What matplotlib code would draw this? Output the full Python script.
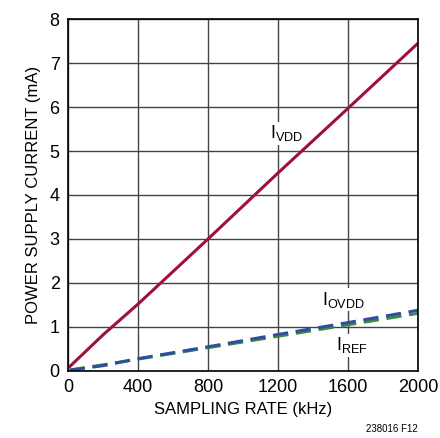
import numpy as np
import matplotlib
matplotlib.use('Agg')
import matplotlib.pyplot as plt

plt.rcParams['font.family'] = ['Liberation Sans Narrow', 'Liberation Sans', 'DejaVu Sans']

rate = [10, 200, 400, 800, 1200, 1600, 2000]
i_vdd = [0.10, 0.82, 1.52, 3.0, 4.5, 5.97, 7.45]
i_ovdd = [0.02, 0.12, 0.28, 0.55, 0.83, 1.10, 1.38]
i_ref = [0.02, 0.14, 0.27, 0.53, 0.79, 1.05, 1.31]

fig = plt.figure(figsize=(4.4, 4.38), dpi=100)
ax = fig.add_axes([0.1545, 0.153, 0.7955, 0.8036])

ax.plot(rate, i_vdd, color='#a0103a', lw=2.2)
ax.plot(rate, i_ref, color='#3d8a3d', lw=2.2, dashes=(5, 2.5))
ax.plot(rate, i_ovdd, color='#2e4fa0', lw=2.2, dashes=(5, 2.5))

ax.set_xlim(0, 2000)
ax.set_ylim(0, 8)
ax.set_xticks(np.arange(0, 2001, 400))
ax.set_yticks(np.arange(0, 9, 1))
ax.tick_params(length=0, labelsize=13, pad=6)
ax.grid(True, color='#444444', lw=1.0)
for s in ax.spines.values():
    s.set_linewidth(1.2)

ax.set_xlabel('SAMPLING RATE (kHz)', fontsize=12, labelpad=4)
ax.set_ylabel('POWER SUPPLY CURRENT (mA)', fontsize=12, labelpad=6)

ax.text(1155, 5.4, r'$\mathregular{I_{VDD}}$', fontsize=13, ha='left', va='center',
        bbox=dict(fc='white', ec='none', pad=1))
ax.text(1450, 1.62, r'$\mathregular{I_{OVDD}}$', fontsize=13, ha='left', va='center',
        bbox=dict(fc='white', ec='none', pad=1))
ax.text(1530, 0.58, r'$\mathregular{I_{REF}}$', fontsize=13, ha='left', va='center',
        bbox=dict(fc='white', ec='none', pad=1))

fig.text(0.95, 0.01, '238016 F12', fontsize=7, ha='right', va='bottom')

fig.savefig('out.png', dpi=100)
